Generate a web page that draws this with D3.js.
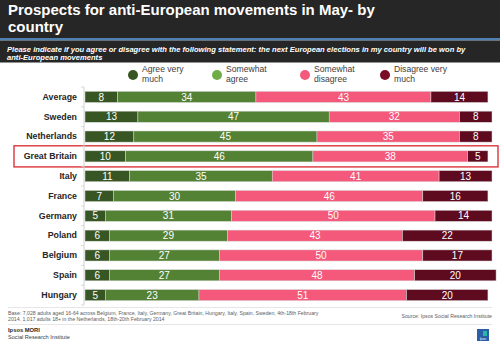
<!DOCTYPE html>
<html>
<head>
<meta charset="utf-8">
<script src="https://cdn.jsdelivr.net/npm/d3@7"></script>
<style>
  body { margin: 0; background: #fff; }
  svg { display: block; font-family: "Liberation Sans", Arial, sans-serif; }
</style>
</head>
<body>
<svg id="chart" width="500" height="343"></svg>
<script>
// data
const countries = ["Average", "Sweden", "Netherlands", "Great Britain", "Italy", "France",
  "Germany", "Poland", "Belgium", "Spain", "Hungary"];
const agreeVeryMuch = [8, 13, 12, 10, 11, 7, 5, 6, 6, 6, 5];
const somewhatAgree = [34, 47, 45, 46, 35, 30, 31, 29, 27, 27, 23];
const somewhatDisagree = [43, 32, 35, 38, 41, 46, 50, 43, 50, 48, 51];
const disagreeVeryMuch = [14, 8, 8, 5, 13, 16, 14, 22, 17, 20, 20];
const seriesNames = ["Agree very much", "Somewhat agree", "Somewhat disagree", "Disagree very much"];
const highlight = "Great Britain";

const barColors = ["#375623", "#548235", "#f4587a", "#5e0a1f"];
const legendColors = ["#375623", "#70ad47", "#f4587a", "#7a0c26"];

const svg = d3.select("#chart");

// header
svg.append("rect").attr("x", 0).attr("y", 0).attr("width", 500).attr("height", 38).attr("fill", "#262626");
svg.append("rect").attr("x", 0).attr("y", 38).attr("width", 500).attr("height", 2.5).attr("fill", "#4f81b0");
svg.append("rect").attr("x", 0).attr("y", 40.5).attr("width", 500).attr("height", 22).attr("fill", "#262626");

const title = svg.append("text").attr("fill", "#fff").attr("font-weight", "bold").style("font-size", "15px");
title.append("tspan").attr("x", 8).attr("y", 15).text("Prospects for anti-European movements in May- by");
title.append("tspan").attr("x", 8).attr("y", 32).text("country");

const sub = svg.append("text").attr("fill", "#fff").attr("font-weight", "bold")
  .attr("font-style", "italic").style("font-size", "7.6px");
sub.append("tspan").attr("x", 7).attr("y", 51.5)
  .text("Please indicate if you agree or disagree with the following statement: the next European elections in my country will be won by");
sub.append("tspan").attr("x", 7).attr("y", 60).text("anti-European movements");

// legend
const legendX = [133, 217, 305, 385];
const legendLines = [["Agree very", "much"], ["Somewhat", "agree"], ["Somewhat", "disagree"], ["Disagree very", "much"]];
const legend = svg.append("g").attr("class", "legend");
seriesNames.forEach((name, i) => {
  const g = legend.append("g").attr("transform", `translate(${legendX[i]},75)`);
  g.append("circle").attr("r", 5).attr("fill", legendColors[i]);
  const t = g.append("text").attr("fill", "#404040").style("font-size", "8.6px");
  legendLines[i].forEach((ln, j) => {
    t.append("tspan").attr("x", 9).attr("y", -3 + j * 10).text(ln);
  });
});

// scales
const margin = { left: 85, top: 87 };
const x = d3.scaleLinear().domain([0, 100]).range([margin.left, 492]);
const y = d3.scaleBand().domain(countries).range([margin.top, 305]).paddingInner(0.44).paddingOuter(0.22);

const rows = countries.map((c, i) => ({
  country: c,
  values: [agreeVeryMuch[i], somewhatAgree[i], somewhatDisagree[i], disagreeVeryMuch[i]]
}));

// highlight box
svg.append("rect")
  .attr("x", 14).attr("y", y(highlight) - 5)
  .attr("width", 484).attr("height", y.bandwidth() + 10)
  .attr("fill", "none").attr("stroke", "#d9252a").attr("stroke-width", 1.3);

// bars
const rowG = svg.selectAll(".row").data(rows).enter().append("g")
  .attr("class", "row")
  .attr("transform", d => `translate(0,${y(d.country)})`);

rowG.each(function (d) {
  const g = d3.select(this);
  let acc = 0;
  d.values.forEach((v, k) => {
    const x0 = x(acc), x1 = x(acc + v);
    g.append("rect")
      .attr("x", x0).attr("y", 0)
      .attr("width", x1 - x0).attr("height", y.bandwidth())
      .attr("fill", barColors[k])
      .attr("stroke", "#d8d8d8").attr("stroke-width", 0.5);
    g.append("text")
      .attr("x", (x0 + x1) / 2).attr("y", y.bandwidth() / 2)
      .attr("dy", "0.36em")
      .attr("text-anchor", "middle")
      .attr("fill", "#fff")
      .style("font-size", "10px")
      .text(v);
    acc += v;
  });
});

// y axis
const yAxis = d3.axisLeft(y).tickSize(0).tickPadding(7);
const yAxisGroup = svg.append("g")
  .attr("transform", `translate(${margin.left - 1},0)`)
  .call(yAxis);
yAxisGroup.select(".domain").attr("stroke", "#d0d0d0").attr("d", `M0,${margin.top}V305`);
yAxisGroup.selectAll("text")
  .attr("fill", "#262626")
  .attr("font-weight", "bold")
  .style("font-size", "8.8px")
  .style("font-family", "Liberation Sans, Arial, sans-serif");

// small separator ticks between categories
const step = y.step();
const sepY = countries.slice(0, -1).map(c => y(c) + y.bandwidth() + (step - y.bandwidth()) / 2);
svg.selectAll(".sep").data([margin.top].concat(sepY, [305])).enter().append("line")
  .attr("x1", margin.left - 4).attr("x2", margin.left - 1)
  .attr("y1", d => d).attr("y2", d => d)
  .attr("stroke", "#d0d0d0").attr("stroke-width", 0.8);

// footer
svg.append("line").attr("x1", 8).attr("x2", 492).attr("y1", 307.5).attr("y2", 307.5)
  .attr("stroke", "#e0e0e0").attr("stroke-width", 0.8);
svg.append("line").attr("x1", 8).attr("x2", 492).attr("y1", 324.5).attr("y2", 324.5)
  .attr("stroke", "#e0e0e0").attr("stroke-width", 0.8);

const base = svg.append("text").attr("fill", "#606060").style("font-size", "5.2px");
base.append("tspan").attr("x", 8).attr("y", 314.5)
  .text("Base: 7,028 adults aged 16-64 across Belgium, France, Italy, Germany, Great Britain, Hungary, Italy, Spain, Sweden, 4th-18th February");
base.append("tspan").attr("x", 8).attr("y", 320.5)
  .text("2014. 1,017 adults 18+ in the Netherlands, 18th-20th February 2014");
svg.append("text").attr("x", 492).attr("y", 317.5).attr("text-anchor", "end")
  .attr("fill", "#606060").style("font-size", "5.2px").text("Source: Ipsos Social Research Institute");

svg.append("text").attr("x", 8).attr("y", 332).attr("fill", "#262626")
  .attr("font-weight", "bold").style("font-size", "5.8px").text("Ipsos MORI");
svg.append("text").attr("x", 8).attr("y", 339).attr("fill", "#404040")
  .style("font-size", "5.6px").text("Social Research Institute");

// logo block
const logo = svg.append("g").attr("transform", "translate(477,329)");
logo.append("rect").attr("width", 12).attr("height", 12).attr("fill", "#2a5fa8");
logo.append("rect").attr("x", 6).attr("y", 2).attr("width", 4).attr("height", 5).attr("fill", "#2bb5a5");
logo.append("text").attr("x", 6).attr("y", 10.5).attr("text-anchor", "middle")
  .attr("fill", "#fff").style("font-size", "2.6px").text("Ipsos");
</script>
</body>
</html>
